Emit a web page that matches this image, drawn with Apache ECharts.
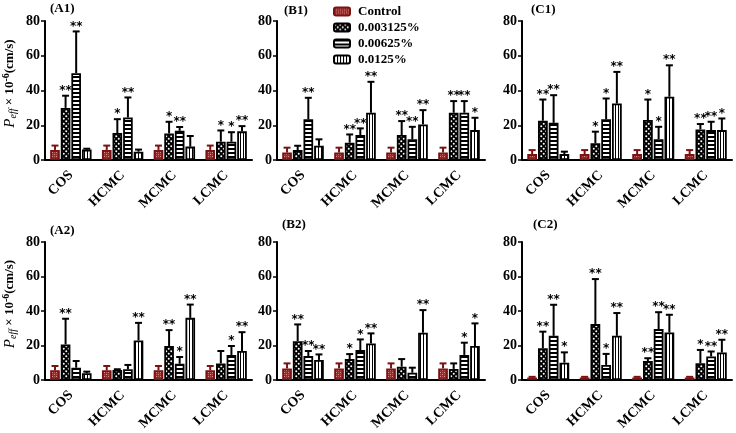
<!DOCTYPE html>
<html><head><meta charset="utf-8">
<script src="https://cdn.jsdelivr.net/npm/echarts@6/dist/echarts.min.js"></script>
<style>html,body{margin:0;padding:0;background:#fff}#c{width:736px;height:433px}</style>
</head><body><div id="c"></div>
<script>
const categories = ['COS','HCMC','MCMC','LCMC'];
const seriesNames = ['Control','0.003125%','0.00625%','0.0125%'];
const panelTitles = ['(A1)','(B1)','(C1)','(A2)','(B2)','(C2)'];
const yTicks = [0,20,40,60,80];

// rows: Control, 0.003125%, 0.00625%, 0.0125% ; columns: COS, HCMC, MCMC, LCMC
const A1_mean = [[5.8,5.8,5.8,5.8],[30,15.5,15.3,10.5],[50,24.5,16.8,10.5],[6,4.8,7.7,16.5]];
const A1_sd   = [[2.5,2.5,2.5,2.5],[7,8,6.7,6.5],[24,11.5,2.2,5.5],[0.5,1.2,6.1,3]];
const A1_sig  = [['','','',''],['**','*','*','*'],['**','**','**','*'],['','','','**']];

const B1_mean = [[4.3,4.3,4.3,4.3],[5.7,10,14.4,27.2],[23.4,14.4,11.9,27.2],[8.2,27.2,20.5,17.2]];
const B1_sd   = [[2.8,2.8,2.8,2.8],[2.5,4.7,8,6.7],[12.4,3.8,7.2,6.7],[3.7,17.8,8.2,7.1]];
const B1_sig  = [['','','',''],['','**','**','**'],['**','**','**','**'],['','**','**','*']];

const C1_mean = [[3.4,3.4,3.4,3.4],[22.6,9.6,23,17.6],[21.4,23.4,12,17.2],[3.4,32.5,36.4,17.2]];
const C1_sd   = [[2.3,2.3,2.3,2.3],[12.2,6.7,11.8,3.1],[15.9,12,7.1,4.8],[1.4,18.2,18.1,6.7]];
const C1_sig  = [['','','',''],['**','*','*','**'],['**','*','*','**'],['','**','**','*']];

const A2_mean = [[5.6,5.6,5.6,5.6],[20.6,5.8,19.7,9.6],[7.1,6.2,9.4,14.5],[3.9,22.9,36,16.8]];
const A2_sd   = [[2.5,2.5,2.5,2.5],[14.9,0.4,9.2,7.2],[3.9,2.5,3.9,5.2],[0.9,10.2,7.7,10.9]];
const A2_sig  = [['','','',''],['**','','**',''],['','','*','*'],['','**','**','**']];

const B2_mean = [[6.7,6.7,6.7,6.7],[22.5,12.1,7.7,6.4],[13.9,17.3,4.2,14.5],[11.6,21.2,27.4,19.7]];
const B2_sd   = [[2.9,2.9,2.9,2.9],[9.7,2.9,4.4,3.2],[2.9,6.2,2.9,7.1],[3.2,5.8,13.1,13.1]];
const B2_sig  = [['','','',''],['**','*','',''],['**','*','','*'],['**','**','**','*']];

const C2_mean = [[1.4,1.4,1.4,1.4],[18.4,32.4,11,9.7],[25.6,8.7,29.5,13.6],[10,25.6,27.5,15.9]];
const C2_sd   = [[0.4,0.4,0.4,0.4],[9.6,26.1,1.6,7.7],[18,6.4,9.8,2.9],[6,13.2,10.3,7.4]];
const C2_sig  = [['','','',''],['**','**','**','*'],['**','*','**','**'],['*','**','**','**']];

const panels = [
  {mean:A1_mean, sd:A1_sd, sig:A1_sig},
  {mean:B1_mean, sd:B1_sd, sig:B1_sig},
  {mean:C1_mean, sd:C1_sd, sig:C1_sig},
  {mean:A2_mean, sd:A2_sd, sig:A2_sig},
  {mean:B2_mean, sd:B2_sd, sig:B2_sig},
  {mean:C2_mean, sd:C2_sd, sig:C2_sig}
];

const FONT = 'Liberation Serif';

function pattern(kind){
  const c = document.createElement('canvas');
  const ctx = c.getContext('2d');
  if (kind === 0) {
    c.width = 4; c.height = 4;
    ctx.fillStyle = '#9a2626'; ctx.fillRect(0,0,4,4);
    ctx.fillStyle = '#d88c8c';
    ctx.fillRect(0,0,1,1); ctx.fillRect(2,2,1,1);
    ctx.fillStyle = '#b85a5a';
    ctx.fillRect(2,0,1,1); ctx.fillRect(0,2,1,1);
  } else if (kind === 1) {
    c.width = 5; c.height = 5;
    ctx.fillStyle = '#000'; ctx.fillRect(0,0,5,5);
    ctx.fillStyle = '#fff';
    ctx.beginPath(); ctx.arc(1.25,1.25,1.0,0,Math.PI*2); ctx.fill();
    ctx.beginPath(); ctx.arc(3.75,3.75,1.0,0,Math.PI*2); ctx.fill();
  } else if (kind === 2) {
    c.width = 4; c.height = 4;
    ctx.fillStyle = '#fff'; ctx.fillRect(0,0,4,4);
    ctx.fillStyle = '#000'; ctx.fillRect(0,0,4,2);
  } else {
    c.width = 3; c.height = 3;
    ctx.fillStyle = '#fff'; ctx.fillRect(0,0,3,3);
    ctx.fillStyle = '#000'; ctx.fillRect(0,0,1,3);
  }
  return {image: c, repeat: 'repeat'};
}
const fills = [0,1,2,3].map(pattern);
const borders = ['#7a1212','#000','#000','#000'];

const gridPos = [
  {left:44, top:21, width:208, height:139},
  {left:277, top:21, width:208, height:139},
  {left:522, top:21, width:210, height:139},
  {left:44, top:242, width:208, height:140},
  {left:277, top:242, width:208, height:140},
  {left:522, top:242, width:210, height:140}
];
const titlePos = [[50,2],[284,4],[531,3],[50,224],[282,218],[533,218]];

const CAT_GAP = 0.2, BAR_GAP = 0.1;

const yName = '{p|P}{sub|eff}{b| × 10}{sup|-6}{b|(cm/s)}';
const yNameRich = {
  p:{fontFamily:FONT, fontStyle:'italic', fontSize:15, color:'#000'},
  sub:{fontFamily:FONT, fontStyle:'italic', fontSize:10, color:'#000', padding:[7,0,0,0]},
  b:{fontFamily:FONT, fontWeight:'bold', fontSize:13, color:'#000'},
  sup:{fontFamily:FONT, fontWeight:'bold', fontSize:10, color:'#000', padding:[0,0,8,0]}
};

const grids = [], xAxes = [], yAxes = [], series = [], titles = [];
panels.forEach((pn, g) => {
  grids.push(Object.assign({containLabel:false}, gridPos[g]));
  titles.push({text: panelTitles[g], left: titlePos[g][0], top: titlePos[g][1], padding:0,
    textStyle:{fontFamily:FONT, fontWeight:'bold', fontSize:13, color:'#000'}});
  xAxes.push({type:'category', gridIndex:g, data:categories,
    axisLine:{lineStyle:{color:'#000', width:2}},
    axisTick:{alignWithLabel:true, length:4, lineStyle:{color:'#000', width:1.5}},
    axisLabel:{rotate:45, margin:13, fontFamily:FONT, fontWeight:'bold', fontSize:14, color:'#000'}
  });
  const ya = {type:'value', gridIndex:g, min:yTicks[0], max:yTicks[yTicks.length-1], interval:20,
    axisLine:{show:true, lineStyle:{color:'#000', width:2}},
    axisTick:{show:true, length:4, lineStyle:{color:'#000', width:1.5}},
    splitLine:{show:false},
    axisLabel:{margin:5, fontFamily:FONT, fontWeight:'bold', fontSize:14, color:'#000'}
  };
  if (g === 0 || g === 3) {
    Object.assign(ya, {name:yName, nameLocation:'middle', nameGap:26, nameRotate:90,
      nameTextStyle:{rich:yNameRich, padding:[0,0,0,14]}});
  }
  yAxes.push(ya);
  for (let s = 0; s < 4; s++) {
    series.push({type:'bar', name:seriesNames[s], xAxisIndex:g, yAxisIndex:g,
      data: pn.mean[s], barGap: (BAR_GAP*100)+'%', barCategoryGap:(CAT_GAP*100)+'%',
      itemStyle:{color:fills[s], borderColor:borders[s], borderWidth:1.8},
      emphasis:{disabled:true}, silent:true, animation:false});
  }
  const items = [], meta = [];
  for (let s = 0; s < 4; s++) for (let c = 0; c < 4; c++) {
    items.push([c, pn.mean[s][c] + pn.sd[s][c]]);
    meta.push({s, c, mean: pn.mean[s][c], top: pn.mean[s][c] + pn.sd[s][c], sig: pn.sig[s][c]});
  }
  series.push({type:'custom', xAxisIndex:g, yAxisIndex:g, z:5, silent:true, animation:false,
    data: items, encode:{x:0, y:1},
    renderItem: function(params, api){
      const m = meta[params.dataIndex];
      const band = api.size([1,0])[0];
      const barW = band*(1-CAT_GAP)/(4 + 3*BAR_GAP);
      const cx = api.coord([m.c, 0])[0];
      const x = cx - band*(1-CAT_GAP)/2 + m.s*barW*(1+BAR_GAP) + barW/2;
      const yB = api.coord([m.c, m.mean])[1];
      const yT = api.coord([m.c, m.top])[1];
      const col = m.s === 0 ? '#7a1212' : '#000';
      const cap = barW*0.36;
      const ch = [
        {type:'line', shape:{x1:x, y1:yB, x2:x, y2:yT}, style:{stroke:col, lineWidth:2}},
        {type:'line', shape:{x1:x-cap, y1:yT, x2:x+cap, y2:yT}, style:{stroke:col, lineWidth:2}}
      ];
      if (m.sig) {
        ch.push({type:'text', x:x, y:yT+1, style:{text:m.sig, fill:'#000',
          font:'bold 12px "DejaVu Sans"', align:'center', verticalAlign:'bottom'}});
      }
      return {type:'group', children:ch};
    }
  });
});

const chart = echarts.init(document.getElementById('c'), null, {renderer:'canvas'});
chart.setOption({
  animation:false,
  backgroundColor:'#fff',
  title: titles,
  legend:{data:seriesNames, orient:'vertical', left:333, top:5, padding:0, itemWidth:16, itemHeight:8, itemGap:3,
    selectedMode:false,
    textStyle:{fontFamily:FONT, fontWeight:'bold', fontSize:13, color:'#000', padding:[0,0,0,3]}},
  grid: grids, xAxis: xAxes, yAxis: yAxes, series: series
});
</script></body></html>
